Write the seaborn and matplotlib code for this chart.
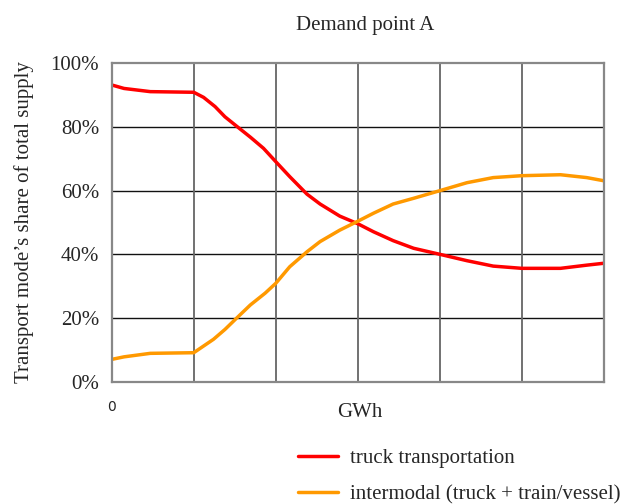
import matplotlib
matplotlib.use("Agg")
import matplotlib.pyplot as plt
import seaborn as sns
import pandas as pd

# Share of total supply (%) per transport mode versus demand (GWh, 6 grid units)
x_truck = [0, 0.15, 0.47, 1.0, 1.12, 1.26, 1.38, 1.52, 1.69, 1.85, 2.0, 2.17, 2.38, 2.54, 2.78, 3.0,
           3.19, 3.43, 3.68, 4.0, 4.33, 4.65, 5.0, 5.47, 5.79, 6.0]
truck = [93.2, 92.1, 91.1, 90.9, 89.3, 86.4, 83.2, 80.3, 76.8, 73.3, 69.1, 64.4, 58.9, 55.8, 52.0, 49.6,
         47.1, 44.3, 41.9, 40.0, 38.0, 36.3, 35.6, 35.6, 36.6, 37.2]

x_inter = [0, 0.15, 0.47, 1.0, 1.12, 1.24, 1.38, 1.52, 1.69, 1.87, 2.0, 2.17, 2.38, 2.54, 2.78, 3.0,
           3.19, 3.43, 3.68, 4.0, 4.33, 4.65, 5.0, 5.47, 5.79, 6.0]
intermodal = [7.0, 7.8, 8.9, 9.1, 11.2, 13.3, 16.4, 19.9, 24.1, 27.8, 30.9, 36.1, 40.8, 44.0, 47.6, 50.4,
              52.9, 55.8, 57.6, 60.0, 62.5, 64.1, 64.7, 65.0, 64.1, 63.1]

labels = ["truck transportation", "intermodal (truck + train/vessel)"]
colors = ["#ff0000", "#ff9900"]
y_ticks = [0, 20, 40, 60, 80, 100]

df = pd.concat([
    pd.DataFrame({"GWh": x_truck, "share": truck, "mode": labels[0]}),
    pd.DataFrame({"GWh": x_inter, "share": intermodal, "mode": labels[1]}),
])

sns.set_style("white")
plt.rcParams["font.family"] = ["Liberation Serif", "DejaVu Serif"]

fig = plt.figure(figsize=(6.22, 5.04), dpi=100)
ax = fig.add_axes([0.1796, 0.2427, 0.7914, 0.6317])

sns.lineplot(data=df, x="GWh", y="share", hue="mode", palette=colors,
             linewidth=2.5, ax=ax, legend=False, sort=False)

ax.set_xlim(0, 6)
ax.set_ylim(0, 100)
ax.set_yticks(y_ticks)
ax.set_yticklabels([f"{v}%" for v in y_ticks], fontsize=15)
ax.set_xticks(range(7))
ax.set_xticklabels(["0"] + [""] * 6, fontsize=10, family="DejaVu Sans")
ax.tick_params(axis="both", length=0)
ax.tick_params(axis="y", pad=9)
ax.tick_params(axis="x", pad=13)

# grid: black horizontals, grey verticals
for v in y_ticks[1:-1]:
    ax.axhline(v, color="#111111", linewidth=1.0, zorder=0)
for v in range(1, 6):
    ax.axvline(v, color="#666666", linewidth=1.3, zorder=0)
for s in ax.spines.values():
    s.set_color("#888888")
    s.set_linewidth(1.6)

ax.set_xlabel("GWh", fontsize=15)
ax.xaxis.set_label_coords(0.505, -0.068)
ax.set_ylabel("Transport mode\u2019s share of total supply", fontsize=15, labelpad=12)
ax.set_title("Demand point A", fontsize=15, pad=24, x=0.5145)

handles = [plt.Line2D([], [], color=c, linewidth=2.5) for c in colors]
fig.legend(handles, labels, loc="upper left", bbox_to_anchor=(0.465, 0.127),
           frameon=False, fontsize=15, handlelength=1.95, handletextpad=0.55,
           labelspacing=0.8, borderaxespad=0)

fig.savefig("out.png", dpi=100)
